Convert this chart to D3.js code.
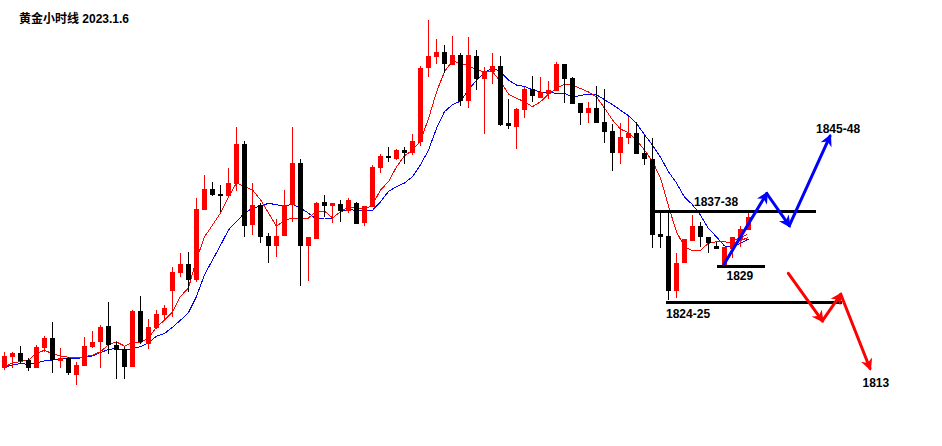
<!DOCTYPE html>
<html>
<head>
<meta charset="utf-8">
<script src="https://cdn.jsdelivr.net/npm/d3@7/dist/d3.min.js"></script>
<style>
  html, body { margin: 0; padding: 0; background: #fff; }
  svg { display: block; }
</style>
</head>
<body>
<svg id="chart" width="942" height="446"></svg>
<script>
// ---- data (gold 1h candles) ----
const opens  = [1815.1,1816.6,1817.2,1816.2,1815.1,1817.9,1819.4,1816.1,1816.5,1814.1,
                1815.4,1818.1,1818.8,1821.1,1818.4,1817.8,1815.2,1823.2,1818.5,1820.8,
                1822.6,1826.1,1828.6,1829.9,1827.6,1837.6,1840.6,1839.9,1839.6,1841.4,
                1847.1,1835.5,1838.4,1833.9,1832.5,1833.9,1838.4,1844.4,1832.5,1833.5,
                1838.8,1838.2,1838.5,1837.5,1838.6,1835.8,1838.1,1843.6,1845.4,1844.9,
                1846.2,1845.8,1847.4,1857.9,1859.5,1860.2,1858.4,1859.8,1853.2,1859.6,
                1856.4,1857.4,1858.2,1850.1,1849.5,1851.9,1854.9,1853.6,1854.2,1854.6,
                1858.5,1856.5,1852.9,1851.5,1852.2,1850.2,1848.9,1845.8,1847.9,1848.6,
                1845.8,1844.9,1834.2,1833.9,1826.1,1830.1,1833.2,1835.4,1833.8,1832.5,
                1829.8,1832.1,1833.4,1834.8];
const highs  = [1817.4,1817.4,1818.2,1816.5,1818.4,1819.6,1821.6,1817.9,1816.6,1815.9,
                1819.5,1820.4,1821.2,1824.5,1818.8,1818.1,1823.4,1825.4,1822.1,1823.4,
                1824.1,1829.5,1831.5,1831.6,1839.4,1842.6,1841.6,1841.2,1843.6,1849.5,
                1847.5,1841.5,1838.6,1834.4,1836.4,1840.5,1849.5,1844.9,1833.8,1838.8,
                1839.8,1838.6,1839.1,1839.4,1838.8,1838.2,1844.1,1845.6,1846.6,1846.4,
                1846.6,1848.5,1858.2,1864.8,1862.1,1861.2,1862.5,1860.1,1862.4,1860.5,
                1858.1,1860.1,1859.6,1853.5,1852.2,1855.2,1856.8,1856.6,1856.1,1858.8,
                1858.5,1856.6,1852.9,1853.1,1855.4,1854.9,1849.9,1850.1,1850.9,1850.2,
                1848.4,1847.9,1837.2,1837.4,1831.5,1833.5,1836.9,1835.9,1833.8,1833.1,
                1832.4,1833.8,1835.4,1837.4];
const lows   = [1814.8,1815.1,1815.8,1814.6,1815.1,1817.4,1814.4,1815.1,1814.1,1812.6,
                1815.4,1817.9,1815.1,1817.1,1813.5,1813.5,1815.2,1818.5,1817.8,1820.6,
                1822.1,1822.4,1828.1,1825.9,1827.4,1837.6,1839.6,1837.4,1839.5,1840.4,
                1833.8,1834.1,1832.9,1830.1,1830.9,1833.9,1835.9,1826.8,1827.5,1833.5,
                1836.6,1835.8,1835.9,1837.2,1835.6,1835.4,1838.1,1842.9,1844.5,1844.8,
                1844.2,1845.5,1846.8,1856.6,1858.5,1857.2,1858.4,1852.5,1852.2,1854.8,
                1848.5,1855.6,1849.6,1849.2,1846.4,1850.8,1853.1,1853.6,1853.5,1854.6,
                1852.9,1852.8,1849.8,1850.1,1850.1,1847.2,1843.2,1844.2,1847.1,1845.6,
                1844.1,1832.2,1832.2,1824.8,1825.1,1830.1,1833.2,1832.4,1831.5,1832.1,
                1829.4,1830.8,1832.4,1834.8];
const closes = [1816.8,1817.2,1816.1,1815.1,1818.1,1819.4,1816.2,1816.5,1814.4,1815.5,
                1818.2,1818.8,1820.9,1818.4,1817.6,1815.2,1823.2,1818.8,1820.9,1822.8,
                1823.6,1828.8,1829.9,1827.6,1837.8,1840.6,1839.8,1839.6,1841.5,1847.1,
                1835.4,1838.4,1833.8,1832.5,1833.9,1838.4,1844.4,1832.5,1833.8,1838.6,
                1838.2,1838.6,1837.5,1839.1,1835.6,1838.2,1843.8,1845.4,1845.1,1846.2,
                1845.8,1847.5,1857.9,1859.6,1860.2,1858.5,1859.8,1853.2,1859.8,1856.4,
                1857.4,1858.2,1849.8,1849.6,1852.1,1854.9,1853.9,1854.5,1854.8,1858.5,
                1856.4,1852.8,1851.5,1852.2,1850.1,1848.8,1845.8,1848.1,1848.6,1845.6,
                1844.9,1834.1,1833.8,1826.1,1830.1,1833.5,1835.4,1833.8,1832.9,1832.1,
                1832.4,1833.8,1834.9,1836.6];
// short moving average (red) and long moving average (blue), as drawn
const maFast = [1815.2,1815.8,1816.0,1816.2,1817.2,1817.6,1817.1,1816.8,1816.6,1816.5,
                1816.7,1816.9,1817.4,1818.4,1818.8,1818.2,1818.7,1818.7,1819.4,1820.9,
                1821.9,1823.1,1825.3,1826.5,1830.6,1833.8,1835.5,1837.2,1839.5,1841.5,
                1841.0,1840.5,1839.1,1837.2,1835.3,1836.2,1836.5,1836.5,1836.5,1837.5,
                1837.5,1836.5,1837.4,1838.1,1838.0,1837.7,1838.4,1840.5,1841.7,1843.8,
                1845.4,1846.2,1847.5,1850.7,1854.5,1857.4,1859.0,1858.5,1858.3,1857.6,
                1857.4,1857.4,1856.0,1854.2,1853.6,1853.1,1852.4,1853.1,1854.2,1855.0,
                1855.6,1855.5,1855.0,1854.5,1853.8,1852.2,1850.5,1849.2,1848.7,1847.6,
                1846.2,1844.6,1842.2,1838.2,1834.5,1832.4,1831.8,1831.9,1832.9,1833.1,
                1833.1,1832.9,1833.3,1833.7];
const maSlow = [1815.2,1815.5,1815.7,1815.6,1815.8,1816.1,1816.2,1816.4,1816.4,1816.4,
                1816.6,1816.8,1817.3,1817.7,1817.9,1817.5,1817.9,1818.1,1818.7,1819.6,
                1820.0,1820.9,1821.9,1823.0,1825.3,1828.4,1830.5,1832.6,1834.8,1836.0,
                1837.2,1837.9,1838.2,1838.6,1838.4,1838.2,1838.5,1837.9,1837.2,1836.3,
                1836.5,1836.5,1837.4,1837.7,1837.6,1837.6,1837.6,1838.8,1840.3,1841.0,
                1841.5,1842.4,1844.1,1846.2,1849.3,1851.7,1852.7,1853.2,1854.8,1856.2,
                1857.2,1858.0,1857.4,1856.2,1855.5,1855.3,1854.8,1854.5,1854.5,1854.3,
                1854.3,1853.8,1854.0,1854.2,1854.1,1853.4,1852.7,1851.9,1851.1,1850.0,
                1848.4,1846.9,1845.2,1843.1,1841.5,1839.5,1838.4,1836.9,1835.0,1833.8,
                1832.5,1832.4,1832.9,1833.5];

// ---- annotations (levels in price, spans in bar-index units) ----
const levelPrices = [1837.5, 1829.6, 1824.45];
const levelSpans  = [[81.3, 101.4], [89.1, 95.1], [82.7, 104.7]];
const labelTexts  = ["1837-38", "1829", "1824-25", "1845-48", "1813"];
const labelAt     = [[86.19, 1838.2], [90.25, 1827.6], [82.69, 1822.2], [101.44, 1848.6], [107.25, 1812.4]];
const bullPath    = [[89.94, 1829.9], [95.28, 1840.0], [98.10, 1835.4], [103.19, 1848.2]];
const bearPath    = [[97.98, 1828.6], [102.23, 1821.8], [104.53, 1825.6], [108.19, 1815.0]];
const extraStroke = [[91.31, 1833.4], [92.78, 1834.1]];
const titleText   = "黄金小时线 2023.1.6";

// ---- scales ----
const svg = d3.select("#chart");
const x = d3.scaleLinear().domain([0, 93]).range([4.5, 748.5]);
const y = d3.scaleLinear().domain([1837.5, 1824.5]).range([211, 302]);

const idx = d3.range(opens.length);
const bodyW = 5;

// MA lines
const line = d3.line().x((d, i) => x(i)).y(d => y(d));
svg.append("path").attr("d", line(maSlow)).attr("fill", "none")
   .attr("stroke", "#0000ff").attr("stroke-width", 1).attr("shape-rendering", "crispEdges");
svg.append("path").attr("d", line(maFast)).attr("fill", "none")
   .attr("stroke", "#ff0000").attr("stroke-width", 1).attr("shape-rendering", "crispEdges");
svg.append("path")
   .attr("d", d3.line().x(d => x(d[0])).y(d => y(d[1]))(extraStroke))
   .attr("fill", "none").attr("stroke", "#ff0000").attr("stroke-width", 1)
   .attr("shape-rendering", "crispEdges");

// candles
const g = svg.append("g").attr("shape-rendering", "crispEdges");
const col = i => closes[i] >= opens[i] ? "#ff0000" : "#000000";
g.selectAll("line.wick").data(idx).join("line")
  .attr("x1", i => x(i)).attr("x2", i => x(i))
  .attr("y1", i => y(highs[i])).attr("y2", i => y(lows[i]))
  .attr("stroke", col).attr("stroke-width", 1);
g.selectAll("rect.body").data(idx).join("rect")
  .attr("x", i => x(i) - bodyW / 2)
  .attr("width", bodyW)
  .attr("y", i => Math.min(y(opens[i]), y(closes[i])))
  .attr("height", i => Math.max(1.5, Math.abs(y(opens[i]) - y(closes[i]))))
  .attr("fill", col);

// level lines
levelPrices.forEach((p, k) => {
  svg.append("line")
    .attr("x1", x(levelSpans[k][0])).attr("x2", x(levelSpans[k][1]))
    .attr("y1", y(p)).attr("y2", y(p))
    .attr("stroke", "#000").attr("stroke-width", 3).attr("shape-rendering", "crispEdges");
});

// arrows
const defs = svg.append("defs");
function marker(id, color) {
  defs.append("marker").attr("id", id)
    .attr("viewBox", "0 0 10 10").attr("refX", 8).attr("refY", 5)
    .attr("markerWidth", 4).attr("markerHeight", 4)
    .attr("markerUnits", "strokeWidth")
    .attr("orient", "auto")
    .append("path").attr("d", "M0,0 L10,5 L0,10 L3,5 Z").attr("fill", color);
}
marker("hb", "#0000ff");
marker("hr", "#ff0000");
function arrowPath(pts, color, mid) {
  for (let k = 0; k < pts.length - 1; k++) {
    svg.append("line")
      .attr("x1", x(pts[k][0])).attr("y1", y(pts[k][1]))
      .attr("x2", x(pts[k + 1][0])).attr("y2", y(pts[k + 1][1]))
      .attr("stroke", color).attr("stroke-width", 3)
      .attr("stroke-linecap", "round")
      .attr("marker-end", `url(#${mid})`);
  }
}
arrowPath(bullPath, "#0000ff", "hb");
arrowPath(bearPath, "#ff0000", "hr");

// labels
labelTexts.forEach((t, k) => {
  svg.append("text").attr("x", x(labelAt[k][0])).attr("y", y(labelAt[k][1]))
    .attr("font-family", "'Liberation Sans', Arial, sans-serif")
    .attr("font-weight", "bold").attr("font-size", 12)
    .attr("fill", "#000").text(t);
});

// title
svg.append("text").attr("x", 19).attr("y", 23)
  .attr("font-family", "'Liberation Sans', 'Noto Sans CJK SC', sans-serif")
  .attr("font-weight", "bold").attr("font-size", 12)
  .attr("fill", "#000").text(titleText);
</script>
</body>
</html>
